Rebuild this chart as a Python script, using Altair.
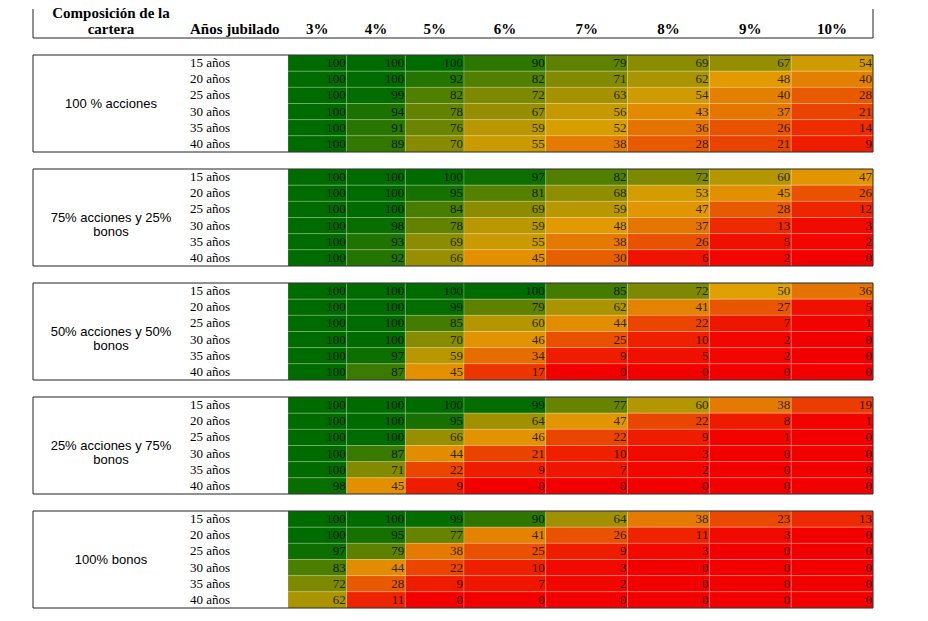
import altair as alt
import pandas as pd

# ---------------- data ----------------
rates = ["3%", "4%", "5%", "6%", "7%", "8%", "9%", "10%"]
years = ["15 años", "20 años", "25 años", "30 años", "35 años", "40 años"]
groups = [
    "100 % acciones",
    "75% acciones y 25% bonos",
    "50% acciones y 50% bonos",
    "25% acciones y 75% bonos",
    "100% bonos",
]
group_labels = [
    "100 % acciones",
    "75% acciones y 25%\nbonos",
    "50% acciones y 50%\nbonos",
    "25% acciones y 75%\nbonos",
    "100% bonos",
]

acciones_100 = [
    [100, 100, 100, 90, 79, 69, 67, 54],
    [100, 100, 92, 82, 71, 62, 48, 40],
    [100, 99, 82, 72, 63, 54, 40, 28],
    [100, 94, 78, 67, 56, 43, 37, 21],
    [100, 91, 76, 59, 52, 36, 26, 14],
    [100, 89, 70, 55, 38, 28, 21, 9],
]
acciones_75 = [
    [100, 100, 100, 97, 82, 72, 60, 47],
    [100, 100, 95, 81, 68, 53, 45, 26],
    [100, 100, 84, 69, 59, 47, 28, 12],
    [100, 98, 78, 59, 48, 37, 13, 3],
    [100, 93, 69, 55, 38, 26, 5, 2],
    [100, 92, 66, 45, 30, 6, 2, 0],
]
acciones_50 = [
    [100, 100, 100, 100, 85, 72, 50, 36],
    [100, 100, 99, 79, 62, 41, 27, 5],
    [100, 100, 85, 60, 44, 22, 7, 1],
    [100, 100, 70, 46, 25, 10, 2, 0],
    [100, 97, 59, 34, 9, 5, 2, 0],
    [100, 87, 45, 17, 0, 0, 0, 0],
]
acciones_25 = [
    [100, 100, 100, 99, 77, 60, 38, 19],
    [100, 100, 95, 64, 47, 22, 8, 1],
    [100, 100, 66, 46, 22, 9, 1, 0],
    [100, 87, 44, 21, 10, 3, 0, 0],
    [100, 71, 22, 9, 7, 2, 0, 0],
    [98, 45, 9, 0, 0, 0, 0, 0],
]
bonos_100 = [
    [100, 100, 99, 90, 64, 38, 23, 13],
    [100, 95, 77, 41, 26, 11, 3, 0],
    [97, 79, 38, 25, 9, 3, 0, 0],
    [83, 44, 22, 10, 3, 0, 0, 0],
    [72, 28, 9, 7, 2, 0, 0, 0],
    [62, 11, 0, 0, 0, 0, 0, 0],
]
tables = [acciones_100, acciones_75, acciones_50, acciones_25, bonos_100]

rates_a = rates[:3]
rates_b = rates[3:]

# ---------------- styling ----------------
LEFT_W = 255
A_W = 176
B_W = 409
BLOCK_H = 97
HEAD_H = 29
BORDER = "#222222"
SERIF = "Liberation Serif"
SANS = "Liberation Sans"

color_scale = alt.Scale(
    domain=[0, 50, 100],
    range=["#f20000", "#e0a000", "#006c00"],
    interpolate="rgb",
)

frame = pd.DataFrame({"f": [0]})


def hrule(y, w):
    return alt.Chart(frame).mark_rule(color=BORDER, strokeWidth=1).encode(
        x=alt.value(0), x2=alt.value(w), y=alt.value(y)
    )


def vrule(x, h):
    return alt.Chart(frame).mark_rule(color=BORDER, strokeWidth=1).encode(
        x=alt.value(x), y=alt.value(0), y2=alt.value(h)
    )


def heat(df, cols, width, right_edge=False):
    xenc = alt.X("rate:N", sort=cols, axis=None,
                 scale=alt.Scale(domain=cols, paddingInner=0, paddingOuter=0))
    yenc = alt.Y("years:N", sort=years, axis=None,
                 scale=alt.Scale(domain=years, paddingInner=0, paddingOuter=0))
    rect = alt.Chart(df).mark_rect(
        stroke="white", strokeOpacity=0.2, strokeWidth=1
    ).encode(
        x=xenc, y=yenc,
        color=alt.Color("value:Q", scale=color_scale, legend=None),
    )
    txt = alt.Chart(df).mark_text(
        align="right", baseline="middle", dx=-1,
        font=SERIF, fontSize=13, color="black", opacity=0.75,
    ).encode(
        x=alt.X("rate:N", sort=cols, bandPosition=1, axis=None,
                scale=alt.Scale(domain=cols, paddingInner=0, paddingOuter=0)),
        y=yenc,
        text="value:Q",
    )
    layers = [rect, txt, hrule(0, width), hrule(BLOCK_H, width)]
    if right_edge:
        layers.append(vrule(width, BLOCK_H))
    return alt.layer(*layers).properties(width=width, height=BLOCK_H)


rows = []

# ---------------- header ----------------
head_left = alt.layer(
    alt.Chart(pd.DataFrame({"t": ["Composición de la\ncartera"]})).mark_text(
        align="center", baseline="alphabetic", font=SERIF, fontSize=15,
        fontWeight="bold", lineBreak="\n", lineHeight=16, color="black",
    ).encode(x=alt.value(78), y=alt.value(9), text="t:N"),
    alt.Chart(pd.DataFrame({"t": ["Años jubilado"]})).mark_text(
        align="left", baseline="alphabetic", font=SERIF, fontSize=15,
        fontWeight="bold", color="black",
    ).encode(x=alt.value(157), y=alt.value(25), text="t:N"),
    vrule(0, HEAD_H),
    hrule(HEAD_H, LEFT_W),
).properties(width=LEFT_W, height=HEAD_H)


def head_rates(cols, width, right_edge=False):
    t = alt.Chart(pd.DataFrame({"rate": cols})).mark_text(
        align="center", baseline="alphabetic", font=SERIF, fontSize=15,
        fontWeight="bold", color="black",
    ).encode(
        x=alt.X("rate:N", sort=cols, axis=None,
                scale=alt.Scale(type="band", domain=cols,
                                paddingInner=0, paddingOuter=0)),
        y=alt.value(25),
        text="rate:N",
    )
    layers = [t, hrule(HEAD_H, width)]
    if right_edge:
        layers.append(vrule(width, HEAD_H))
    return alt.layer(*layers).properties(width=width, height=HEAD_H)


rows.append(alt.hconcat(head_left, head_rates(rates_a, A_W),
                        head_rates(rates_b, B_W, True),
                        spacing=0, bounds="flush"))

# ---------------- blocks ----------------
for g, lab, tab in zip(groups, group_labels, tables):
    recs = []
    for yi, yr in enumerate(years):
        for ri, rt in enumerate(rates):
            recs.append({"group": g, "years": yr, "rate": rt, "value": tab[yi][ri]})
    df = pd.DataFrame(recs)
    df_a = df[df["rate"].isin(rates_a)]
    df_b = df[df["rate"].isin(rates_b)]

    left = alt.layer(
        alt.Chart(pd.DataFrame({"years": years})).mark_text(
            align="left", baseline="middle", font=SERIF, fontSize=13, color="black",
        ).encode(
            x=alt.value(157),
            y=alt.Y("years:N", sort=years, axis=None,
                    scale=alt.Scale(type="band", domain=years,
                                    paddingInner=0, paddingOuter=0)),
            text="years:N",
        ),
        alt.Chart(pd.DataFrame({"label": [lab]})).mark_text(
            align="center", baseline="middle", font=SANS, fontSize=13,
            lineBreak="\n", lineHeight=14, color="black",
        ).encode(x=alt.value(78), y=alt.value(BLOCK_H / 2), text="label:N"),
        vrule(0, BLOCK_H),
        hrule(0, LEFT_W),
        hrule(BLOCK_H, LEFT_W),
    ).properties(width=LEFT_W, height=BLOCK_H)

    rows.append(alt.hconcat(left, heat(df_a, rates_a, A_W),
                            heat(df_b, rates_b, B_W, True),
                            spacing=0, bounds="flush"))

chart = alt.vconcat(*rows, spacing=15).properties(
    padding={"left": 24, "top": -2, "right": 5, "bottom": 0}
).configure_view(stroke=None)

chart.save("out.html", embed_options={"renderer": "svg", "actions": False})
